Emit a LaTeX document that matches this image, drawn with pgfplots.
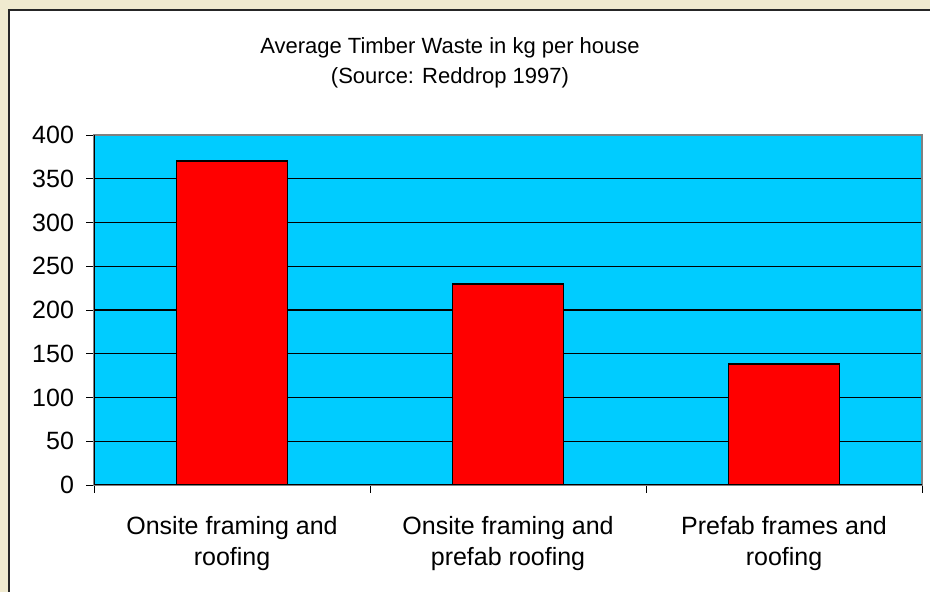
\documentclass[border=0pt]{standalone}
\usepackage{pgfplots}
\pgfplotsset{compat=1.18}
\usepackage{fontspec}
\setmainfont{Liberation Sans}
\definecolor{beige}{RGB}{240,234,207}
\definecolor{skyc}{RGB}{0,204,255}
\definecolor{framegray}{RGB}{128,128,128}
\begin{document}
\begin{tikzpicture}[x=0.5bp,y=0.5bp]
\useasboundingbox (0,0) rectangle (930,592);
\fill[beige] (0,0) rectangle (930,592);
\fill[white] (9,0) rectangle (930,581);
\draw[line width=1bp,black!85] (8.5,0) -- (8.5,581.5) -- (930,581.5);
\node[anchor=base,font=\fontsize{11bp}{13bp}\selectfont,inner sep=0pt] at (450,538) {Average Timber Waste in kg per house};
\node[anchor=base,font=\fontsize{11bp}{13bp}\selectfont,inner sep=0pt] at (450,508) {(Source: Reddrop 1997)};
\begin{axis}[
  at={(47bp,53.5bp)}, anchor=south west,
  scale only axis, width=414bp, height=175bp,
  xmin=-0.5, xmax=2.5, ymin=0, ymax=400,
  ytick={0,50,...,400},
  xtick={0,1,2},
  xtick pos=bottom, ytick pos=left,
  xticklabels={Onsite framing and\\roofing, Onsite framing and\\prefab roofing, Prefab frames and\\roofing},
  xticklabel style={align=center, font=\fontsize{12.5bp}{15.5bp}\selectfont, yshift=-8bp},
  yticklabel style={font=\fontsize{12.5bp}{14bp}\selectfont, xshift=-2.5bp},
  /pgf/number format/assume math mode=true,
  major x tick style={draw=none},
  minor xtick={-0.5,0.5,1.5,2.5},
  minor x tick style={black, thin},
  y tick style={black, thin},
  tick align=outside,
  major tick length=4bp, minor tick length=4bp,
  ymajorgrids, grid style={black, line width=0.6pt},
  axis background/.style={fill=skyc},
  axis line style={framegray, line width=0.8pt},
  ybar, bar width=55.5bp,
]
\addplot[fill=red, draw=black, line width=0.8pt] coordinates {(0,370) (1,230) (2,138)};
\draw[black, line width=0.8pt] (rel axis cs:0,1) -- (rel axis cs:0,0) -- (rel axis cs:1,0);
\end{axis}
\end{tikzpicture}
\end{document}
